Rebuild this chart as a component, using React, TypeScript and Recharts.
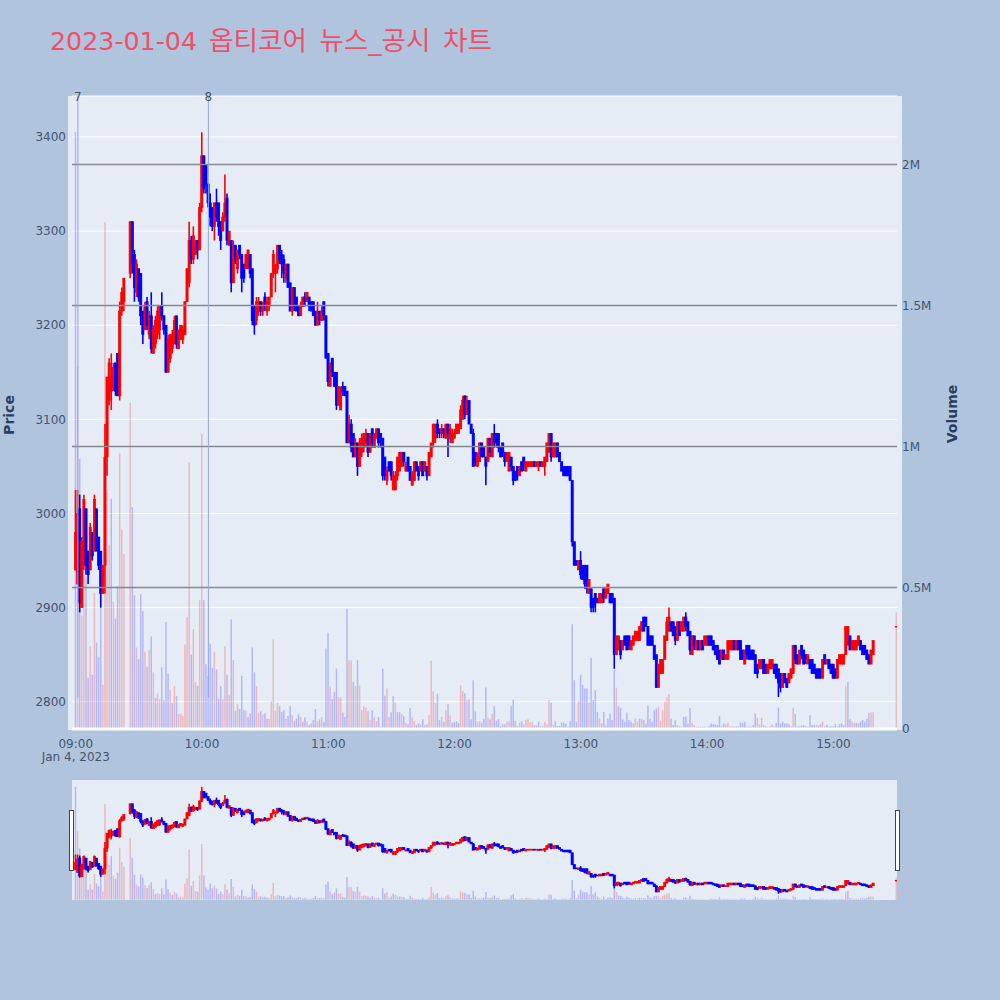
import {
  Bar,
  CartesianGrid,
  Cell,
  ComposedChart,
  ReferenceLine,
  XAxis,
  YAxis,
} from "recharts";

const FONT = '"DejaVu Sans", "Noto Sans CJK KR", sans-serif';
const INK = "#2a3f5f";
const TICK_INK = "#44546f";
const UP = "#ff0000";
const DOWN = "#0000ff";

// one entry per minute from 09:00, null where nothing traded
const opens = [
  2940,2925,3005,2900,2945,3005,2960,2940,2980,2960,
  3005,2975,2960,2915,2945,3060,3120,3130,3135,3160,
  3170,3125,3215,3225,null,null,3255,3310,3275,3235,
  3260,3255,3215,3195,3225,3190,3210,3170,3180,3190,
  3195,3220,3210,3200,3150,3165,3175,3180,3210,3175,
  3185,3185,3190,3225,3245,3290,3270,3275,3290,3280,
  3325,3380,3370,3350,3330,3325,3305,3330,3330,3310,
  3300,3315,3335,3285,3290,3245,3285,3260,3285,3275,
  3265,3260,3260,3275,3260,3220,3205,3215,3225,3215,
  3230,3215,3220,3230,3255,3255,3260,3285,3275,3270,
  3250,3265,3245,3215,3240,3230,3220,3210,3220,3230,
  3225,3230,3225,3225,3215,3200,3215,3205,3225,3210,
  3170,3135,3165,3150,3150,3115,3110,3135,3135,3130,
  3075,3095,3085,3060,3075,3050,3065,3070,3075,3085,
  3065,3090,3070,3080,3090,3085,3080,3060,3035,3055,
  3055,3025,3025,3040,3045,3050,3065,3045,3060,3050,
  3030,3035,3055,3050,3045,3055,3045,3050,3040,3060,
  3075,3080,3095,3090,3085,3090,3080,3095,3080,3075,
  3080,3085,3085,3090,3100,3125,3105,3120,3095,3085,
  3065,3050,3055,3075,3070,3060,3055,3080,3060,3085,
  3085,3085,3070,3075,3065,3055,3045,3060,3050,3045,
  3050,3040,3055,3060,3045,3050,3050,3050,3055,3050,
  3050,3055,3050,3050,3055,3065,3085,3060,3060,3075,
  3065,3055,3050,3050,3050,3050,3035,2970,2950,2940,
  2950,2945,2945,2945,2915,2920,2910,2915,2910,2905,
  2905,2920,2910,2915,2915,2915,2910,2850,2855,2865,
  2855,2870,2870,2870,2855,2860,2865,2865,2865,2875,
  2890,2890,2880,2870,2870,2860,2850,2815,2830,2830,
  2845,2865,2875,2885,2885,2880,2865,2885,2875,2875,
  2890,2885,2875,2850,2870,2855,2865,2855,2865,2860,
  2860,2870,2870,2865,2860,2860,2855,2845,2855,2845,
  2845,2855,2855,2865,2855,2865,2865,2855,2840,2860,
  2860,2855,2855,2850,2840,2835,2835,2845,2840,2830,
  2835,2835,2840,2840,2835,2830,2815,2830,2825,2820,
  2825,2830,2860,2850,2840,2860,2855,2850,2840,2845,
  2845,2840,2835,2835,2835,2825,2850,2840,2845,2840,
  2840,2835,2825,2840,2840,2840,2850,2860,2870,2855,
  2855,2855,2860,2865,2860,2860,2855,2850,2840,2850,
  null,null,null,null,null,null,null,null,null,null,
  2880,
];
const highs = [
  3025,3025,3020,2975,3020,3005,2960,2990,2980,3020,
  3005,2975,2960,2945,3095,3145,3165,3170,3160,3160,
  3170,3225,3240,3250,null,null,3310,3310,3280,3270,
  3260,3255,3215,3225,3230,3215,3235,3200,3210,3220,
  3220,3235,3210,3200,3190,3190,3195,3210,3210,3195,
  3200,3200,3225,3260,3310,3295,3305,3290,3290,3330,
  3405,3380,3370,3350,3340,3325,3330,3345,3330,3310,
  3320,3360,3340,3300,3290,3290,3285,3280,3285,3275,
  3265,3275,3280,3275,3260,3220,3230,3230,3225,3225,
  3235,3230,3230,3255,3280,3265,3285,3285,3280,3275,
  3265,3265,3245,3240,3240,3230,3220,3225,3230,3235,
  3235,3230,3225,3225,3215,3225,3215,3220,3225,3210,
  3170,3160,3165,3150,3150,3135,3135,3140,3135,3130,
  3105,3100,3085,3080,3075,3080,3085,3085,3090,3085,
  3085,3090,3085,3090,3090,3085,3080,3060,3050,3055,
  3055,3045,3045,3060,3065,3065,3065,3055,3060,3050,
  3045,3055,3055,3050,3055,3055,3055,3050,3065,3075,
  3095,3095,3100,3090,3095,3090,3095,3095,3095,3090,
  3090,3095,3095,3115,3125,3125,3125,3120,3095,3090,
  3065,3065,3075,3075,3070,3060,3080,3080,3085,3095,
  3085,3085,3070,3075,3065,3065,3065,3060,3050,3045,
  3050,3050,3055,3060,3055,3055,3055,3055,3055,3055,
  3055,3055,3055,3060,3075,3085,3085,3075,3075,3075,
  3065,3055,3050,3050,3050,3050,3035,2970,2950,2950,
  2960,2945,2945,2945,2930,2920,2910,2915,2910,2915,
  2915,2920,2920,2925,2915,2915,2910,2870,2870,2865,
  2865,2870,2870,2870,2865,2870,2875,2875,2880,2885,
  2890,2890,2880,2870,2870,2860,2850,2840,2845,2845,
  2870,2890,2900,2885,2885,2880,2885,2885,2885,2890,
  2895,2885,2875,2870,2870,2865,2865,2865,2865,2870,
  2870,2870,2870,2865,2860,2860,2855,2855,2855,2850,
  2865,2865,2865,2865,2865,2865,2865,2855,2855,2860,
  2860,2855,2855,2850,2840,2845,2845,2845,2840,2840,
  2845,2845,2840,2840,2835,2830,2830,2830,2825,2830,
  2835,2860,2860,2850,2855,2860,2855,2850,2850,2845,
  2845,2840,2835,2835,2835,2845,2850,2845,2845,2840,
  2840,2835,2845,2850,2850,2850,2880,2880,2870,2865,
  2865,2865,2870,2865,2860,2860,2855,2850,2855,2865,
  null,null,null,null,null,null,null,null,null,null,
  2880,
];
const lows = [
  2940,2925,2895,2900,2940,2935,2925,2940,2950,2960,
  2960,2940,2900,2915,2915,3040,3115,3110,3130,3125,
  3125,3120,3210,3215,null,null,3250,3255,3225,3230,
  3225,3200,3180,3195,3195,3185,3170,3170,3175,3185,
  3185,3205,3190,3150,3150,3160,3170,3180,3175,3175,
  3185,3180,3190,3225,3240,3265,3265,3275,3270,3280,
  3320,3340,3340,3325,3305,3300,3290,3310,3295,3280,
  3300,3310,3285,3285,3235,3245,3265,3255,3270,3235,
  3245,3260,3260,3250,3200,3190,3200,3210,3210,3210,
  3215,3210,3215,3230,3250,3235,3255,3265,3250,3245,
  3245,3240,3215,3210,3215,3215,3210,3210,3220,3220,
  3225,3215,3215,3210,3200,3200,3200,3205,3205,3165,
  3135,3135,3145,3135,3110,3115,3110,3125,3125,3075,
  3075,3065,3060,3060,3040,3050,3060,3065,3070,3060,
  3065,3070,3070,3080,3070,3070,3035,3035,3030,3045,
  3035,3025,3025,3035,3045,3050,3050,3045,3045,3035,
  3030,3035,3045,3035,3045,3040,3045,3035,3040,3060,
  3070,3075,3080,3080,3080,3080,3080,3060,3075,3075,
  3080,3085,3085,3090,3100,3100,3105,3095,3085,3050,
  3050,3050,3055,3060,3060,3030,3055,3060,3060,3070,
  3070,3065,3060,3060,3050,3055,3045,3045,3030,3035,
  3035,3040,3045,3045,3045,3050,3050,3050,3050,3050,
  3045,3050,3050,3040,3055,3065,3055,3060,3060,3060,
  3055,3045,3040,3040,3040,3035,2965,2945,2945,2940,
  2930,2930,2920,2915,2915,2895,2895,2895,2905,2905,
  2905,2905,2910,2915,2905,2905,2835,2850,2855,2845,
  2855,2860,2855,2855,2855,2860,2865,2865,2865,2875,
  2875,2880,2860,2860,2860,2845,2815,2815,2830,2830,
  2845,2865,2875,2875,2870,2860,2865,2870,2875,2875,
  2875,2870,2850,2850,2855,2855,2855,2855,2855,2860,
  2860,2860,2860,2855,2850,2845,2840,2845,2845,2845,
  2845,2855,2855,2855,2855,2855,2845,2845,2840,2845,
  2845,2845,2845,2830,2825,2835,2835,2830,2830,2830,
  2835,2835,2830,2825,2805,2810,2815,2820,2815,2820,
  2825,2830,2840,2840,2840,2845,2840,2840,2840,2835,
  2830,2830,2825,2825,2825,2825,2840,2840,2835,2830,
  2825,2825,2825,2840,2840,2840,2850,2860,2855,2855,
  2855,2855,2860,2855,2850,2850,2845,2840,2840,2850,
  null,null,null,null,null,null,null,null,null,null,
  2880,
];
const closes = [
  2980,3000,2905,2970,3015,2945,2935,2985,2955,3015,
  2960,2945,2915,2945,3060,3145,3160,3145,3155,3130,
  3125,3215,3235,3250,null,null,3310,3265,3240,3265,
  3230,3210,3190,3220,3200,3210,3175,3195,3205,3215,
  3220,3210,3195,3150,3185,3190,3190,3205,3180,3195,
  3200,3195,3225,3260,3290,3270,3295,3290,3280,3325,
  3380,3345,3350,3330,3315,3305,3330,3315,3305,3290,
  3315,3330,3290,3300,3245,3285,3270,3280,3275,3250,
  3250,3275,3280,3255,3205,3200,3225,3225,3215,3220,
  3220,3225,3230,3255,3275,3260,3285,3270,3265,3255,
  3265,3240,3215,3240,3220,3215,3210,3220,3230,3225,
  3235,3220,3215,3210,3200,3215,3205,3215,3210,3165,
  3140,3160,3150,3135,3115,3135,3130,3130,3125,3075,
  3095,3070,3060,3075,3050,3075,3080,3085,3085,3065,
  3085,3075,3085,3090,3075,3080,3040,3040,3045,3045,
  3040,3040,3040,3060,3065,3065,3055,3050,3045,3035,
  3040,3055,3045,3040,3055,3040,3055,3040,3065,3075,
  3095,3095,3085,3085,3090,3085,3095,3085,3090,3085,
  3085,3095,3095,3110,3120,3105,3120,3095,3085,3050,
  3055,3060,3075,3060,3060,3050,3080,3065,3085,3075,
  3075,3070,3060,3065,3055,3065,3065,3050,3035,3035,
  3040,3050,3045,3050,3055,3055,3055,3055,3050,3055,
  3055,3050,3055,3060,3075,3085,3060,3075,3075,3060,
  3055,3045,3040,3040,3040,3035,2970,2945,2945,2950,
  2935,2930,2925,2920,2930,2900,2900,2905,2905,2915,
  2915,2910,2920,2925,2905,2905,2850,2870,2870,2850,
  2865,2860,2855,2860,2865,2870,2875,2875,2880,2885,
  2875,2880,2860,2860,2860,2845,2815,2840,2845,2845,
  2870,2885,2890,2875,2870,2865,2885,2870,2885,2890,
  2880,2870,2855,2870,2860,2865,2855,2865,2855,2870,
  2870,2860,2860,2855,2850,2845,2840,2855,2845,2850,
  2865,2865,2865,2855,2865,2855,2845,2845,2855,2850,
  2845,2845,2845,2830,2830,2845,2845,2830,2830,2840,
  2845,2845,2830,2825,2820,2815,2830,2820,2815,2830,
  2835,2860,2845,2840,2855,2850,2840,2845,2850,2835,
  2830,2830,2825,2825,2825,2845,2840,2845,2835,2830,
  2825,2825,2845,2850,2850,2850,2880,2880,2855,2865,
  2865,2865,2870,2855,2850,2850,2845,2840,2855,2865,
  null,null,null,null,null,null,null,null,null,null,
  2880,
];
// thousands of shares
const volumesK = [
  2115,1282,957,400,750,540,180,292,191,481,
  304,252,514,154,1795,850,650,815,449,390,
  505,975,706,618,null,null,1155,785,473,287,
  246,476,417,272,219,278,327,199,109,124,
  104,216,100,378,195,136,91,151,115,51,
  53,44,298,396,943,262,352,165,151,455,
  1044,455,228,187,301,215,272,210,106,150,
  104,292,191,118,387,243,63,86,69,187,
  66,63,41,53,288,199,151,56,61,50,
  54,35,35,97,316,63,91,79,59,65,
  34,44,79,47,26,35,51,41,24,39,
  25,12,18,30,69,26,32,41,24,284,
  340,150,104,130,213,112,110,57,41,425,
  242,242,165,150,242,152,65,79,74,61,
  30,65,39,27,41,6,213,116,142,41,
  58,115,91,58,58,51,44,20,15,73,
  39,26,12,18,14,33,12,14,47,240,
  132,91,124,30,41,24,65,86,46,21,
  22,26,20,154,134,124,100,103,33,171,
  61,24,26,21,35,145,39,32,51,79,
  27,33,8,15,15,25,25,79,103,26,
  9,20,26,15,30,33,22,24,12,11,
  25,8,8,24,15,100,91,12,26,9,
  9,21,20,18,6,26,370,171,24,98,
  191,154,142,142,91,250,100,136,59,35,
  18,59,12,35,53,30,209,145,79,73,
  32,24,57,30,24,18,35,24,35,35,
  30,18,82,35,24,65,71,77,27,65,
  95,110,122,35,12,30,12,8,6,41,
  43,18,73,20,12,6,6,6,6,6,
  4,8,18,15,15,12,45,8,18,15,
  20,6,8,6,8,6,21,21,24,6,
  8,6,12,53,38,15,38,12,8,6,
  8,15,6,20,74,18,24,18,18,15,
  8,74,51,8,8,11,11,8,6,47,
  12,12,12,11,15,24,8,12,6,8,
  8,15,8,15,18,12,150,165,33,24,
  20,20,18,24,30,24,35,56,58,58,
  null,null,null,null,null,null,null,null,null,null,
  411,
];
const volumeSides = [
  "brbrrbbrbr","bbbrrrrbrb","brrr--rbbr","bbbrbrbrbr","rbbbbrbrbr",
  "rrrrrbrrbr","rbbbbbrbbb","rrbrbrbrbb","brbbbbrrbr","bbrrrrrbbb",
  "rbbrbbbrbb","rbbbbrbrbb","brbbbrrbbb","rrbrbrrrrb","rbrrbbbbrr",
  "bbrbbrbrbb","rrbbrbrbrr","rrbbrbrbrb","bbbrrbrbbb","brrbbbrbrb",
  "bbbbbrrbbb","brbrrrrrbr","bbbrrrbrbb","bbbbbbbbbr","bbbbrbbbbr",
  "bbrbbbbrbb","bbbbbbrrbr","bbbbbbbrrr","rrrbbbrbrb","bbbrrbbbbb",
  "rbbbbbbbbr","rbrbbbbbbr","rbbbrrrrbr","rrbbbbbbbb","rrbbbbbbrb",
  "bbrbbrrbbb","bbrbbbrbbr","rbbbbbbbrr","----------","r",
].join("");

const newsMarks = [
  { minute: 1, label: "7" },
  { minute: 63, label: "8" },
];
const priceTicks = [2800, 2900, 3000, 3100, 3200, 3300, 3400];
const volumeTicks = [0, 500000, 1000000, 1500000, 2000000];
const timeTicks = [0, 60, 120, 180, 240, 300, 360];
const timeLabels = ["09:00", "10:00", "11:00", "12:00", "13:00", "14:00", "15:00"];

const priceDomain = [2770, 3443.5];
const volumeDomain = [-5300, 2243000];
const minuteDomain = [-1.8, 390.2];

const rows = opens
  .map((open, minute) => ({
    minute,
    open,
    high: highs[minute],
    low: lows[minute],
    close: closes[minute],
    range: [lows[minute], highs[minute]],
    volume: volumesK[minute] == null ? null : volumesK[minute] * 1000,
    side: volumeSides[minute],
  }))
  .filter((r) => r.open != null);

function Candle(props: any) {
  const { x, y, width, height, payload } = props;
  const top = Math.min(y, y + height);
  const h = Math.abs(height);
  const span = payload.high - payload.low;
  const perUnit = span > 0 ? h / span : 0;
  const cx = x + width / 2;
  const color = payload.close >= payload.open ? UP : DOWN;
  const bodyTop = top + (payload.high - Math.max(payload.open, payload.close)) * perUnit;
  const bodyH = Math.abs(payload.close - payload.open) * perUnit;
  return (
    <g>
      <line x1={cx} x2={cx} y1={top} y2={top + h} stroke={color} strokeWidth={1.6} />
      <rect
        x={cx - 1.1}
        y={bodyTop}
        width={2.2}
        height={Math.max(bodyH, 0.6)}
        fill={color}
        stroke={color}
        strokeWidth={0.7}
      />
    </g>
  );
}

function TimeTick(props: any) {
  const { x, y, payload } = props;
  const i = timeTicks.indexOf(payload.value);
  return (
    <g>
      <text x={x} y={y + 12} textAnchor="middle" fontSize={12} fontFamily={FONT} fill={TICK_INK}>
        {timeLabels[i]}
      </text>
      {i === 0 && (
        <text x={x} y={y + 25} textAnchor="middle" fontSize={12} fontFamily={FONT} fill={TICK_INK}>
          Jan 4, 2023
        </text>
      )}
    </g>
  );
}

function formatVolume(v: number) {
  return v === 0 ? "0" : v / 1000000 + "M";
}

export default function App() {
  const tickStyle = { fontSize: 12, fontFamily: FONT, fill: TICK_INK };
  return (
    <div
      style={{
        position: "absolute",
        left: 0,
        top: 0,
        width: 1000,
        height: 1000,
        background: "#b0c4de",
        overflow: "hidden",
      }}
    >
      <div
        style={{
          position: "absolute",
          left: 50,
          top: 24,
          fontSize: 25.3,
          lineHeight: "34px",
          color: "#ef5068",
          fontFamily: FONT,
          whiteSpace: "nowrap",
          wordSpacing: 4,
        }}
      >
        2023-01-04 <span style={{ fontSize: 26.6 }}>옵티코어 뉴스_공시 차트</span>
      </div>

      <div style={{ position: "absolute", left: 68, top: 96, width: 834, height: 634, background: "#e5ecf6" }} />
      <div style={{ position: "absolute", left: 72, top: 780, width: 825, height: 120, background: "#e5ecf6" }} />

      <div style={{ position: "absolute", left: 0, top: 0 }}>
        <ComposedChart
          width={1000}
          height={770}
          data={rows}
          margin={{ top: 96, right: 0, bottom: 0, left: 0 }}
          barGap={-1.5}
          barSize={1.5}
        >
          <CartesianGrid yAxisId="price" vertical={false} stroke="#ffffff" strokeWidth={1} />
          <XAxis
            dataKey="minute"
            type="number"
            domain={minuteDomain}
            ticks={timeTicks}
            height={40}
            axisLine={false}
            tickLine={false}
            tick={<TimeTick />}
            tickMargin={0}
            interval={0}
            allowDataOverflow
          />
          <YAxis
            yAxisId="price"
            width={72}
            domain={priceDomain}
            ticks={priceTicks}
            axisLine={false}
            tickLine={false}
            tickSize={0}
            tickMargin={6}
            tick={tickStyle}
            interval={0}
            allowDataOverflow
          />
          <YAxis
            yAxisId="volume"
            orientation="right"
            width={103}
            domain={volumeDomain}
            ticks={volumeTicks}
            tickFormatter={formatVolume}
            axisLine={false}
            tickLine={false}
            tickSize={0}
            tickMargin={5}
            tick={tickStyle}
            interval={0}
            allowDataOverflow
          />
          {volumeTicks.slice(1).map((v) => (
            <ReferenceLine key={v} yAxisId="volume" y={v} stroke="#85888f" strokeWidth={1.5} />
          ))}
          <ReferenceLine yAxisId="volume" y={0} stroke="#ffffff" strokeWidth={2} />
          <Bar yAxisId="volume" dataKey="volume" isAnimationActive={false} barSize={1.5}>
            {rows.map((r) => (
              <Cell key={r.minute} fill={r.side === "r" ? UP : DOWN} fillOpacity={0.22} />
            ))}
          </Bar>
          {newsMarks.map((m) => (
            <ReferenceLine
              key={m.label}
              yAxisId="price"
              stroke="#8fa5ec"
              strokeWidth={1}
              segment={[
                { x: m.minute, y: 2805 },
                { x: m.minute, y: 3443.5 },
              ]}
              label={{ value: m.label, position: "top", fontSize: 12, fontFamily: FONT, fill: TICK_INK, dy: 10 }}
            />
          ))}
          <Bar yAxisId="price" dataKey="range" isAnimationActive={false} barSize={1.5} shape={<Candle />} />
          <text
            transform="translate(14,415) rotate(-90)"
            textAnchor="middle"
            fontSize={14}
            fontWeight="bold"
            fontFamily={FONT}
            fill={INK}
          >
            Price
          </text>
          <text
            transform="translate(957,414) rotate(-90)"
            textAnchor="middle"
            fontSize={14}
            fontWeight="bold"
            fontFamily={FONT}
            fill={INK}
          >
            Volume
          </text>
        </ComposedChart>
      </div>

      <div style={{ position: "absolute", left: 0, top: 780 }}>
        <ComposedChart
          width={1000}
          height={120}
          data={rows}
          margin={{ top: 0, right: 103, bottom: 0, left: 72 }}
          barGap={-1.5}
          barSize={1.5}
        >
          <XAxis dataKey="minute" type="number" domain={minuteDomain} hide allowDataOverflow />
          <YAxis yAxisId="price" domain={priceDomain} hide allowDataOverflow />
          <YAxis yAxisId="volume" orientation="right" domain={volumeDomain} hide allowDataOverflow />
          <Bar yAxisId="volume" dataKey="volume" isAnimationActive={false} barSize={1.5}>
            {rows.map((r) => (
              <Cell key={r.minute} fill={r.side === "r" ? UP : DOWN} fillOpacity={0.22} />
            ))}
          </Bar>
          <Bar yAxisId="price" dataKey="range" isAnimationActive={false} barSize={1.5} shape={<Candle />} />
        </ComposedChart>
      </div>

      <div style={{ position: "absolute", left: 69, top: 810, width: 3, height: 59, background: "#fff", border: "1px solid #444" }} />
      <div style={{ position: "absolute", left: 895, top: 810, width: 3, height: 59, background: "#fff", border: "1px solid #444" }} />
    </div>
  );
}
